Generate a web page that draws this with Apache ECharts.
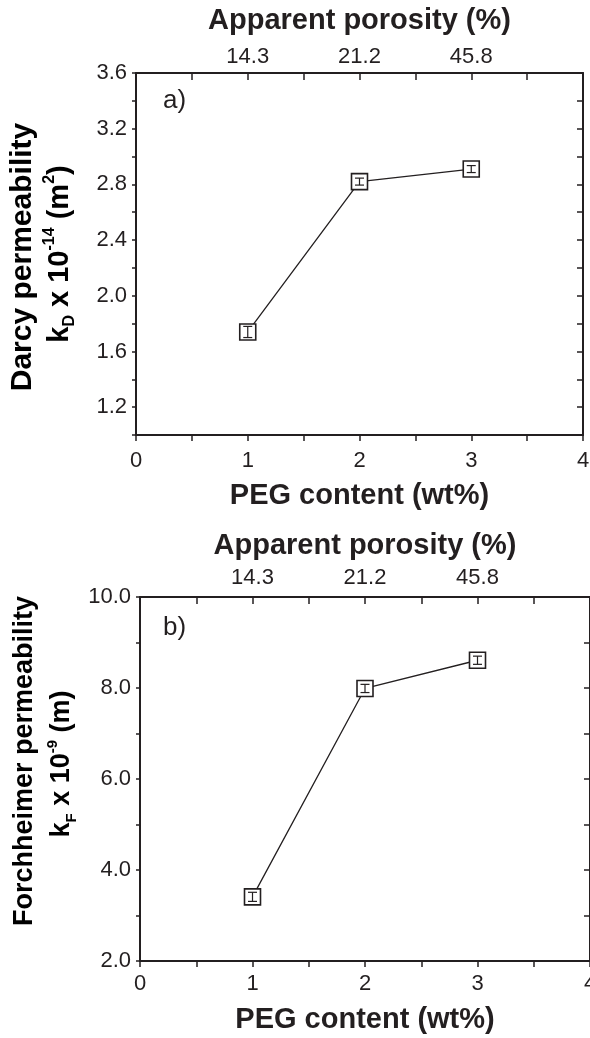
<!DOCTYPE html>
<html>
<head>
<meta charset="utf-8">
<script src="https://cdn.jsdelivr.net/npm/echarts@6/dist/echarts.min.js"></script>
<style>
  html, body { margin: 0; padding: 0; background: #fff; }
  #chart { width: 590px; height: 1038px; }
</style>
</head>
<body>
<div id="chart"></div>
<script>
// PEG content (wt%) of the samples, and the apparent porosity shown on the top axis
var pegContent = [1, 2, 3];
var porosityLabels = ['14.3', '21.2', '45.8'];

// a) Darcy permeability kD x 10^-14 (m2)
var darcyK = [1.74, 2.82, 2.91];
var darcyErr = [0.04, 0.025, 0.025];

// b) Forchheimer permeability kF x 10^-9 (m)
var forchK = [3.41, 7.99, 8.61];
var forchErr = [0.1, 0.09, 0.09];

var ink = '#231f20';
var font = 'Arial, "Liberation Sans", Helvetica, sans-serif';

var chart = echarts.init(document.getElementById('chart'));

function pairs(xs, ys) {
  return xs.map(function (x, i) { return [x, ys[i]]; });
}
function errRows(xs, ys, es) {
  return xs.map(function (x, i) { return [x, ys[i] - es[i], ys[i] + es[i]]; });
}

function bottomAxis(grid, gap, lblMargin) {
  return {
    gridIndex: grid, type: 'value', position: 'bottom', min: 0, max: 4, interval: 0.5,
    name: 'PEG content (wt%)', nameLocation: 'middle', nameGap: gap,
    nameTextStyle: { fontFamily: font, fontSize: 29, fontWeight: 'bold', color: ink },
    axisLine: { onZero: false, lineStyle: { color: ink, width: 2 } },
    axisTick: { length: 6, lineStyle: { color: ink, width: 1.5 } },
    axisLabel: {
      margin: lblMargin, fontFamily: font, fontSize: 22, color: ink,
      formatter: function (v) { return Math.abs(v - Math.round(v)) < 1e-6 ? String(Math.round(v)) : ''; }
    },
    splitLine: { show: false }
  };
}
function topAxis(grid, gap, lblMargin) {
  return {
    gridIndex: grid, type: 'value', position: 'top', min: 0, max: 4, interval: 0.5,
    name: 'Apparent porosity (%)', nameLocation: 'middle', nameGap: gap,
    nameTextStyle: { fontFamily: font, fontSize: 29, fontWeight: 'bold', color: ink },
    axisLine: { onZero: false, lineStyle: { color: ink, width: 2 } },
    axisTick: { inside: true, length: 7, lineStyle: { color: ink, width: 1.5 } },
    axisLabel: {
      margin: lblMargin, fontFamily: font, fontSize: 22, color: ink,
      formatter: function (v) {
        var i = pegContent.indexOf(Math.round(v * 100) / 100);
        return i >= 0 ? porosityLabels[i] : '';
      }
    },
    splitLine: { show: false }
  };
}
// labels only every `every` tenths; `skip` is a value (in tenths) left unlabelled
function leftAxis(grid, min, max, step, every, skip) {
  return {
    gridIndex: grid, type: 'value', position: 'left', min: min, max: max, interval: step,
    axisLine: { onZero: false, lineStyle: { color: ink, width: 2 } },
    axisTick: { length: 4, lineStyle: { color: ink, width: 1.5 } },
    axisLabel: {
      margin: 9, fontFamily: font, fontSize: 22, color: ink,
      formatter: function (v) {
        var k = Math.round(v * 10);
        return k % every === 0 && k !== skip ? (k / 10).toFixed(1) : '';
      }
    },
    splitLine: { show: false }
  };
}
function rightAxis(grid, min, max, step) {
  return {
    gridIndex: grid, type: 'value', position: 'right', min: min, max: max, interval: step,
    axisLine: { onZero: false, lineStyle: { color: ink, width: 2 } },
    axisTick: { inside: true, length: 6, lineStyle: { color: ink, width: 1.5 } },
    axisLabel: { show: false },
    splitLine: { show: false }
  };
}

function lineSeries(xi, yi, data) {
  return {
    type: 'line', xAxisIndex: xi, yAxisIndex: yi, data: data,
    symbol: 'rect', symbolSize: 16, showAllSymbol: true,
    lineStyle: { color: ink, width: 1.3 },
    itemStyle: { color: '#fff', borderColor: ink, borderWidth: 1.6 },
    z: 2
  };
}
function errSeries(xi, yi, data) {
  return {
    type: 'custom', xAxisIndex: xi, yAxisIndex: yi, data: data, z: 5,
    encode: { x: 0, y: [1, 2] },
    renderItem: function (params, api) {
      var lo = api.coord([api.value(0), api.value(1)]);
      var hi = api.coord([api.value(0), api.value(2)]);
      var w = 4.5;
      var st = { stroke: ink, lineWidth: 1.2 };
      return {
        type: 'group',
        children: [
          { type: 'line', shape: { x1: lo[0], y1: lo[1], x2: hi[0], y2: hi[1] }, style: st },
          { type: 'line', shape: { x1: lo[0] - w, y1: lo[1], x2: lo[0] + w, y2: lo[1] }, style: st },
          { type: 'line', shape: { x1: hi[0] - w, y1: hi[1], x2: hi[0] + w, y2: hi[1] }, style: st }
        ]
      };
    }
  };
}

function richTitle(size) {
  var s = Math.round(size * 0.55);
  return {
    n: { fontFamily: font, fontSize: size, fontWeight: 'bold', color: ink, lineHeight: size + 7 },
    sup: { fontFamily: font, fontSize: s, fontWeight: 'bold', color: ink, verticalAlign: 'top', lineHeight: s },
    sub: { fontFamily: font, fontSize: s, fontWeight: 'bold', color: ink, verticalAlign: 'bottom', lineHeight: s }
  };
}

chart.setOption({
  animation: false,
  grid: [
    { left: 136, top: 73, width: 447, height: 362, outerBoundsMode: 'none' },
    { left: 140, top: 597, width: 450, height: 364, outerBoundsMode: 'none' }
  ],
  xAxis: [
    bottomAxis(0, 46, 15),
    topAxis(0, 38, 5),
    bottomAxis(1, 44, 12),
    topAxis(1, 37, 8)
  ],
  yAxis: [
    leftAxis(0, 1.0, 3.6, 0.2, 4, 10),
    rightAxis(0, 1.0, 3.6, 0.2),
    leftAxis(1, 2, 10, 1, 20, -1),
    rightAxis(1, 2, 10, 1)
  ],
  graphic: [
    { type: 'text', x: 163, y: 101, style: { text: 'a)', fontFamily: font, fontSize: 26, fill: ink, verticalAlign: 'middle' } },
    { type: 'text', x: 163, y: 628, style: { text: 'b)', fontFamily: font, fontSize: 26, fill: ink, verticalAlign: 'middle' } },
    { type: 'text', x: 23, y: 257, rotation: Math.PI / 2,
      style: { text: '{n|Darcy permeability}', rich: richTitle(30), align: 'center', verticalAlign: 'middle' } },
    { type: 'text', x: 60, y: 254, rotation: Math.PI / 2,
      style: { text: '{n|k}{sub|D}{n| x 10}{sup|-14}{n| (m}{sup|2}{n|)}', rich: richTitle(29), align: 'center', verticalAlign: 'middle' } },
    { type: 'text', x: 25, y: 761, rotation: Math.PI / 2,
      style: { text: '{n|Forchheimer permeability}', rich: richTitle(27), align: 'center', verticalAlign: 'middle' } },
    { type: 'text', x: 62, y: 764, rotation: Math.PI / 2,
      style: { text: '{n|k}{sub|F}{n| x 10}{sup|-9}{n| (m)}', rich: richTitle(27), align: 'center', verticalAlign: 'middle' } }
  ],
  series: [
    lineSeries(0, 0, pairs(pegContent, darcyK)),
    errSeries(0, 0, errRows(pegContent, darcyK, darcyErr)),
    lineSeries(2, 2, pairs(pegContent, forchK)),
    errSeries(2, 2, errRows(pegContent, forchK, forchErr))
  ]
});
</script>
</body>
</html>
